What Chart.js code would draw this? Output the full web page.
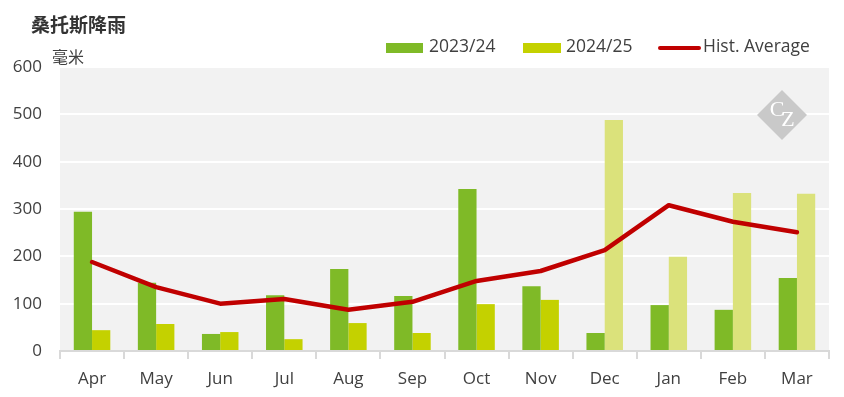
<!DOCTYPE html>
<html><head><meta charset="utf-8">
<script src="https://cdn.jsdelivr.net/npm/chart.js@4/dist/chart.umd.min.js"></script>
<style>html,body{margin:0;padding:0;background:#fff}#wrap{width:844px;height:397px}</style>
</head><body><div id="wrap"><canvas id="c" width="844" height="397"></canvas></div>
<script>
const months = ["Apr","May","Jun","Jul","Aug","Sep","Oct","Nov","Dec","Jan","Feb","Mar"];
const rain2023 = [294,144,36,118,173,116,342,137,38,97,87,154];
const rain2024 = [44,57,40,25,59,38,99,108,488,199,334,332];
const histAvg = [188,135,100,110,87,104,148,169,213,308,273,251];
const yTicks = [0,100,200,300,400,500,600];
const forecastFrom = 8;

const FONT = "'Open Sans', 'Noto Sans', sans-serif";
const C1 = '#7fba27', C2 = '#c4d100', C2L = '#dbe27b', CL = '#c00000';

const deco = {
  id:'deco',
  beforeDraw(ch){
    const a = ch.chartArea, g = ch.ctx;
    g.save(); g.fillStyle='#f2f2f2'; g.fillRect(a.left,a.top,a.right-a.left,a.bottom-a.top); g.restore();
  },
  afterDatasetsDraw(ch){
    const g = ch.ctx;
    g.save();
    const cx=782, cy=115, r=25;
    g.fillStyle='#c9c9c9';
    g.beginPath(); g.moveTo(cx,cy-r); g.lineTo(cx+r,cy); g.lineTo(cx,cy+r); g.lineTo(cx-r,cy); g.closePath(); g.fill();
    g.fillStyle='#fff'; g.font="22px 'Liberation Serif', serif"; g.textAlign='center'; g.textBaseline='middle';
    g.fillText('C',cx-5,cy-5); g.fillText('Z',cx+6,cy+5);
    g.restore();
  },
  afterDraw(ch){
    const g = ch.ctx;
    g.save();
    g.fillStyle='#333'; g.textBaseline='middle'; g.textAlign='left';
    g.font="bold 19px 'Noto Sans CJK SC', sans-serif";
    g.fillText('桑托斯降雨',31,25);
    g.fillStyle='#404040';
    g.font="16px 'Noto Sans CJK SC', sans-serif";
    g.fillText('毫米',52,57);
    g.font="17.5px "+FONT;
    g.fillStyle=C1; g.fillRect(386,43,37,10);
    g.fillStyle='#404040'; g.fillText('2023/24',429,47);
    g.fillStyle=C2; g.fillRect(523,43,38,10);
    g.fillStyle='#404040'; g.fillText('2024/25',566,47);
    g.strokeStyle=CL; g.lineWidth=4; g.lineCap='round';
    g.beginPath(); g.moveTo(660,48); g.lineTo(699,48); g.stroke();
    g.fillStyle='#404040'; g.fillText('Hist. Average',703,47);
    g.restore();
  }
};

new Chart(document.getElementById('c'), {
  type:'bar',
  data:{
    labels: months,
    datasets:[
      {type:'line', label:'Hist. Average', data: histAvg, borderColor:CL, backgroundColor:CL, borderWidth:4.5,
       pointRadius:0, tension:0, borderCapStyle:'round', borderJoinStyle:'round', order:0},
      {label:'2023/24', data: rain2023, backgroundColor:C1, categoryPercentage:0.57, barPercentage:1, order:1},
      {label:'2024/25', data: rain2024, backgroundColor: rain2024.map((v,i)=> i>=forecastFrom ? C2L : C2),
       categoryPercentage:0.57, barPercentage:1, order:1}
    ]
  },
  options:{
    responsive:false, animation:false, devicePixelRatio:1,
    layout:{padding:{top:67,right:15,left:0,bottom:0}},
    plugins:{legend:{display:false}, tooltip:{enabled:false}},
    scales:{
      x:{
        grid:{display:true, drawOnChartArea:false, drawTicks:true, tickLength:8, color:'#d9d9d9', lineWidth:2, offset:true},
        border:{display:true, color:'#d9d9d9', width:2},
        ticks:{color:'#404040', font:{family:FONT, size:17}, padding:10},
        afterFit(s){ s.height = 46; }
      },
      y:{
        min:0, max:600,
        afterBuildTicks(s){ s.ticks = yTicks.map(v=>({value:v})); },
        grid:{color:'#ffffff', lineWidth:2, drawTicks:false},
        border:{display:false},
        ticks:{color:'#404040', font:{family:FONT, size:17}, padding:18},
        afterFit(s){ s.width = 60; }
      }
    }
  },
  plugins:[deco]
});
</script></body></html>
